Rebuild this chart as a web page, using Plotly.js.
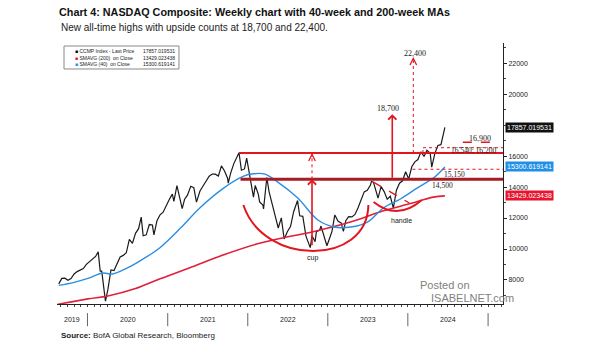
<!DOCTYPE html>
<html><head><meta charset="utf-8">
<script src="https://cdn.plot.ly/plotly-3.0.1.min.js"></script>
<style>html,body{margin:0;padding:0;background:#fff;}#chart{width:605px;height:341px;}</style>
</head><body><div id="chart"></div>
<script>
// ---- data ----
const priceDates = [
'2019-08-23','2019-09-06','2019-09-20','2019-10-04','2019-10-18','2019-11-01','2019-11-15','2019-11-29','2019-12-13','2019-12-27',
'2020-01-10','2020-01-24','2020-02-07','2020-02-19','2020-02-28','2020-03-06','2020-03-13','2020-03-20','2020-03-23','2020-04-03',
'2020-04-17','2020-05-01','2020-05-15','2020-05-29','2020-06-12','2020-06-26','2020-07-10','2020-07-24','2020-08-07','2020-08-21',
'2020-09-02','2020-09-11','2020-09-25','2020-10-09','2020-10-23','2020-10-30','2020-11-13','2020-11-27','2020-12-11','2020-12-24',
'2021-01-08','2021-01-22','2021-01-29','2021-02-12','2021-02-26','2021-03-05','2021-03-08','2021-03-19','2021-04-01','2021-04-16',
'2021-04-30','2021-05-12','2021-05-28','2021-06-11','2021-06-25','2021-07-09','2021-07-23','2021-08-06','2021-08-20','2021-09-03',
'2021-09-17','2021-10-01','2021-10-04','2021-10-15','2021-10-29','2021-11-12','2021-11-19','2021-11-22','2021-12-03','2021-12-17',
'2021-12-27','2022-01-07','2022-01-21','2022-01-27','2022-02-04','2022-02-18','2022-02-24','2022-03-11','2022-03-14','2022-03-29',
'2022-04-08','2022-04-22','2022-05-06','2022-05-20','2022-06-03','2022-06-16','2022-07-01','2022-07-15','2022-07-29','2022-08-16',
'2022-08-26','2022-09-09','2022-09-23','2022-09-30','2022-10-13','2022-10-21','2022-11-04','2022-11-10','2022-11-25','2022-12-01',
'2022-12-16','2022-12-28','2023-01-06','2023-01-20','2023-02-02','2023-02-17','2023-03-03','2023-03-13','2023-03-24','2023-04-06',
'2023-04-21','2023-05-05','2023-05-19','2023-06-02','2023-06-16','2023-06-30','2023-07-14','2023-07-19','2023-07-28','2023-08-11',
'2023-08-18','2023-09-01','2023-09-15','2023-09-29','2023-10-13','2023-10-27','2023-11-10','2023-11-24','2023-12-08','2023-12-22',
'2024-01-05','2024-01-19','2024-02-02','2024-02-16','2024-03-01','2024-03-15','2024-03-28','2024-04-12','2024-04-19','2024-05-03',
'2024-05-17','2024-05-31','2024-06-07','2024-06-18'];
const priceValues = [
7750,8103,8118,7982,8089,8386,8541,8665,8735,9007,
9179,9315,9520,9817,8567,8576,7875,6880,6631,7373,
8650,8605,9015,9490,9589,9757,10617,10363,11010,11312,
12056,10854,10914,11580,11548,10911,11829,12206,12378,12805,
13202,13543,13070,14095,13192,12920,12609,13215,13480,14052,
13962,13031,13748,14069,14360,14701,14837,14835,14714,15363,
15043,14567,14255,14897,15498,15861,16057,16212,15085,15170,
15871,14936,13769,13352,14098,13548,13037,12843,12581,14619,
13711,12839,12145,11355,12013,10646,11128,11452,12391,13128,
12142,12112,10868,10576,10089,10860,10475,11114,11226,11482,
10705,10213,10569,11140,12201,11787,11689,11138,11824,12088,
12073,12235,12658,13241,13689,13788,14113,14358,14317,13644,
13290,14031,13708,13219,13407,12643,13798,14250,14404,14992,
14524,15311,15629,15775,16274,15973,16379,16175,15282,16156,
16686,16735,17133,17857];

const sma40Dates  = ['2019-08-23','2019-11-01','2020-01-03','2020-03-10','2020-04-24','2020-07-01','2020-09-04','2020-11-25','2021-03-05','2021-05-27','2021-09-13','2021-12-13','2022-01-18','2022-03-17','2022-05-18','2022-08-17','2022-11-17','2023-01-30','2023-04-15','2023-07-01','2023-09-12','2023-11-28','2024-02-12','2024-04-26','2024-06-18'];
const sma40Values = [7650,7850,8100,8450,8390,8775,9300,10070,11420,12650,13935,14700,14840,14850,14320,13290,11870,11420,11420,11740,12650,13230,13935,14580,15300];

const sma200Dates  = ['2019-08-15','2020-01-03','2020-04-03','2020-08-07','2020-11-13','2021-04-09','2021-09-10','2022-02-10','2022-06-03','2022-10-21','2023-04-14','2023-09-08','2024-01-05','2024-04-26','2024-06-18'];
const sma200Values = [6420,6780,6970,7450,8000,8775,9610,10320,10700,11100,11740,12450,12900,13350,13429];

const seriesNames = ['CCMP Index - Last Price','SMAVG (200)  on Close','SMAVG (40)  on Close'];
const lastLabels  = ['17857.019531','13429.023438','15300.619141'];
const lastValues  = [17857.019531, 13429.023438, 15300.619141];

const yTickValues = [8000,10000,12000,14000,16000,20000,22000];
const yearLabels = ['2019','2020','2021','2022','2023','2024'];
const yearBounds = ['2020-01-01','2021-01-01','2022-01-01','2023-01-01','2024-01-01','2025-01-01'];

const levelHigh = 16200, levelLow = 14500, cupLow = 10150;
const target1 = 18700, target2 = 22400;
const level16900 = 16900, level16540 = 16540, level15150 = 15150;

// ---- layout ----
const xRange = ['2019-08-15','2025-03-10'];
const RED = '#e3151f', DARKRED = '#a51c24', BLUE = '#2b8ee0', MARED = '#e0203a';
const SANS = 'Liberation Sans, Arial, sans-serif';
const SERIF = 'Liberation Serif, Times New Roman, serif';

const traces = [
  {x: priceDates, y: priceValues, type:'scatter', mode:'lines', name: seriesNames[0],
   line:{color:'#1a1a1a', width:1.2}},
  {x: sma200Dates, y: sma200Values, type:'scatter', mode:'lines', name: seriesNames[1],
   line:{color:MARED, width:1.6, shape:'spline'}},
  {x: sma40Dates, y: sma40Values, type:'scatter', mode:'lines', name: seriesNames[2],
   line:{color:BLUE, width:1.4, shape:'spline'}}
];

const shapes = [];
const annotations = [];

// year separators
const allBounds = ['2019-01-01'].concat(yearBounds);
yearBounds.forEach(d => shapes.push({type:'line', xref:'x', yref:'paper', x0:d, x1:d, y0:-0.035, y1:-0.085, line:{color:'#666', width:1}}));
// year labels centred on the visible part of each year
const t0 = new Date(xRange[0]).getTime(), t1 = new Date(xRange[1]).getTime();
yearLabels.forEach((lab, i) => {
  const a = Math.max(new Date(allBounds[i]).getTime(), t0);
  const b = Math.min(new Date(allBounds[i+1]).getTime(), t1);
  const mid = new Date((a+b)/2).toISOString().slice(0,10);
  annotations.push({xref:'x', yref:'paper', x:mid, y:-0.06, text:lab, showarrow:false,
    font:{family:SANS, size:7, color:'#222'}, yanchor:'middle'});
});

// horizontal levels
shapes.push({type:'line', xref:'x', yref:'y', x0:'2021-11-22', x1:xRange[1], y0:levelHigh, y1:levelHigh, line:{color:RED, width:2}});
shapes.push({type:'line', xref:'x', yref:'y', x0:'2021-11-29', x1:xRange[1], y0:levelLow, y1:levelLow, line:{color:DARKRED, width:3}});
shapes.push({type:'line', xref:'x', yref:'y', x0:'2024-09-08', x1:'2025-02-14', y0:level16900, y1:level16900, line:{color:RED, width:1.5, dash:'dash'}});
shapes.push({type:'line', xref:'x', yref:'y', x0:'2024-03-10', x1:xRange[1], y0:level16540, y1:level16540, line:{color:RED, width:1, dash:'dot'}});
shapes.push({type:'line', xref:'x', yref:'y', x0:'2024-03-10', x1:'2024-03-10', y0:levelHigh, y1:level16540, line:{color:RED, width:1, dash:'dot'}});
shapes.push({type:'line', xref:'x', yref:'y', x0:'2024-01-22', x1:xRange[1], y0:level15150, y1:level15150, line:{color:RED, width:1, dash:'dot'}});
// handle channel
shapes.push({type:'line', xref:'x', yref:'y', x0:'2023-07-28', x1:'2024-01-08', y0:14320, y1:12970, line:{color:RED, width:1.3, dash:'dash'}});
// cup and handle curves
shapes.push({type:'path', xref:'x', yref:'y', path:'M2021-12-12,12840 C2022-03-15,8880 2023-07-01,8880 2023-07-05,12840', line:{color:RED, width:2}});
shapes.push({type:'path', xref:'x', yref:'y', path:'M2023-07-29,13030 Q2023-11-15,11805 2024-03-05,13160', line:{color:RED, width:2}});
// dotted arrow shafts
shapes.push({type:'line', xref:'x', yref:'y', x0:'2022-10-21', x1:'2022-10-21', y0:levelLow, y1:levelHigh, line:{color:RED, width:1, dash:'dot'}});
shapes.push({type:'line', xref:'x', yref:'y', x0:'2024-01-26', x1:'2024-01-26', y0:levelHigh, y1:target2, line:{color:RED, width:1, dash:'dot'}});
// legend box
shapes.push({type:'rect', xref:'paper', yref:'paper', x0:0.0157, x1:0.2735, y0:0.9004, y1:0.9885, line:{color:'#888', width:1}, fillcolor:'rgba(255,255,255,0.9)'});

// solid arrows
annotations.push({xref:'x', yref:'y', x:'2022-10-21', y:levelLow, axref:'x', ayref:'y', ax:'2022-10-21', ay:cupLow,
  showarrow:true, arrowhead:4, arrowsize:1, arrowwidth:1.6, arrowcolor:RED, text:'', standoff:0});
annotations.push({xref:'x', yref:'y', x:'2023-10-22', y:target1, axref:'x', ayref:'y', ax:'2023-10-22', ay:levelLow,
  showarrow:true, arrowhead:4, arrowsize:1, arrowwidth:1.6, arrowcolor:RED, text:'', standoff:0});
// heads of dotted arrows
annotations.push({xref:'x', yref:'y', x:'2022-10-21', y:levelHigh, ax:0, ay:5,
  showarrow:true, arrowhead:5, arrowsize:1.3, arrowwidth:1, arrowcolor:RED, text:'', standoff:0});
annotations.push({xref:'x', yref:'y', x:'2024-01-26', y:target2, ax:0, ay:5,
  showarrow:true, arrowhead:5, arrowsize:1.3, arrowwidth:1, arrowcolor:RED, text:'', standoff:0});

function lab(x, y, text, fam, size){
  annotations.push({xref:'x', yref:'y', x:x, y:y, text:text, showarrow:false,
    font:{family:fam, size:size, color:'#222'}, xanchor:'center', yanchor:'middle'});
}
lab('2023-10-01', 19050, '18,700', SERIF, 8);
lab('2024-02-03', 22650, '22,400', SERIF, 8);
lab('2024-11-25', 17150, '16,900', SERIF, 8);
lab('2024-10-27', 16330, '16,540; 16,200', SERIF, 7.5);
lab('2024-08-02', 14840, '15,150', SERIF, 7.5);
lab('2024-06-06', 14130, '14,500', SERIF, 7.5);
lab('2022-10-21', 9420, 'cup', SANS, 7);
lab('2023-12-05', 11870, 'handle', SANS, 7);

// last-value tags on the right axis
const tagColors = ['#111111', '#e8142d', '#1f8fe8'];
[0,1,2].forEach(i => annotations.push({xref:'paper', yref:'y', x:1, y:lastValues[i], xanchor:'left', yanchor:'middle',
  xshift:2, text:lastLabels[i], showarrow:false, bgcolor:tagColors[i], borderpad:1,
  font:{family:SANS, size:7, color:'#fff'}}));

// legend contents
const sq = c => '<span style="color:'+c+'">\u25A0</span> ';
annotations.push({xref:'paper', yref:'paper', x:0.036, y:0.944, xanchor:'left', yanchor:'middle', align:'left', showarrow:false,
  text: sq('#000')+seriesNames[0]+'<br>'+sq('#e8142d')+seriesNames[1]+'<br>'+sq('#1f8fe8')+seriesNames[2],
  font:{family:SANS, size:5, color:'#222'}});
annotations.push({xref:'paper', yref:'paper', x:0.268, y:0.944, xanchor:'right', yanchor:'middle', align:'right', showarrow:false,
  text: lastLabels[0]+'<br>'+lastLabels[1]+'<br>'+lastLabels[2], font:{family:SANS, size:5, color:'#222'}});

// subtitle, source, watermark
annotations.push({xref:'paper', yref:'paper', x:0.004, y:1.061, xanchor:'left', yanchor:'middle', showarrow:false,
  text:'New all-time highs with upside counts at 18,700 and 22,400.', font:{family:SANS, size:10, color:'#222'}});
annotations.push({xref:'paper', yref:'paper', x:0.004, y:-0.119, xanchor:'left', yanchor:'middle', showarrow:false,
  text:'<b>Source:</b> BofA Global Research, Bloomberg', font:{family:SANS, size:8, color:'#222'}});
annotations.push({xref:'paper', yref:'paper', x:0.87, y:0.073, xanchor:'center', yanchor:'middle', showarrow:false,
  text:'Posted on', font:{family:SANS, size:11, color:'#808080'}});
annotations.push({xref:'paper', yref:'paper', x:0.932, y:0.023, xanchor:'center', yanchor:'middle', showarrow:false,
  text:'ISABELNET.com', font:{family:SANS, size:11, color:'#808080'}});

const layout = {
  width:605, height:341,
  margin:{l:57, r:102, t:43, b:37, pad:0},
  paper_bgcolor:'#fff', plot_bgcolor:'#fff',
  showlegend:false,
  title:{text:'<b>Chart 4: NASDAQ Composite: Weekly chart with 40-week and 200-week MAs</b>',
    xref:'container', x:59/605, xanchor:'left', yref:'container', y:1-12/341, yanchor:'middle',
    font:{family:SANS, size:10.8, color:'#111'}},
  xaxis:{type:'date', range:xRange, showgrid:false, zeroline:false, showline:true, linecolor:'#222', linewidth:1,
    ticks:'outside', tickmode:'linear', tick0:'2019-01-01', dtick:'M1', ticklen:2, tickcolor:'#444', showticklabels:false},
  yaxis:{side:'right', range:[6450, 23300], showgrid:false, zeroline:false, showline:true, linecolor:'#222', linewidth:1,
    ticks:'outside', tickmode:'array', tickvals:yTickValues, ticktext:yTickValues.map(String), ticklen:3, tickcolor:'#222',
    tickfont:{family:SANS, size:7, color:'#222'},
    minor:{ticks:'outside', tickmode:'linear', tick0:0, dtick:1000, ticklen:2, tickcolor:'#444'}},
  shapes:shapes, annotations:annotations
};

Plotly.newPlot('chart', traces, layout, {displayModeBar:false, staticPlot:true});
</script></body></html>
